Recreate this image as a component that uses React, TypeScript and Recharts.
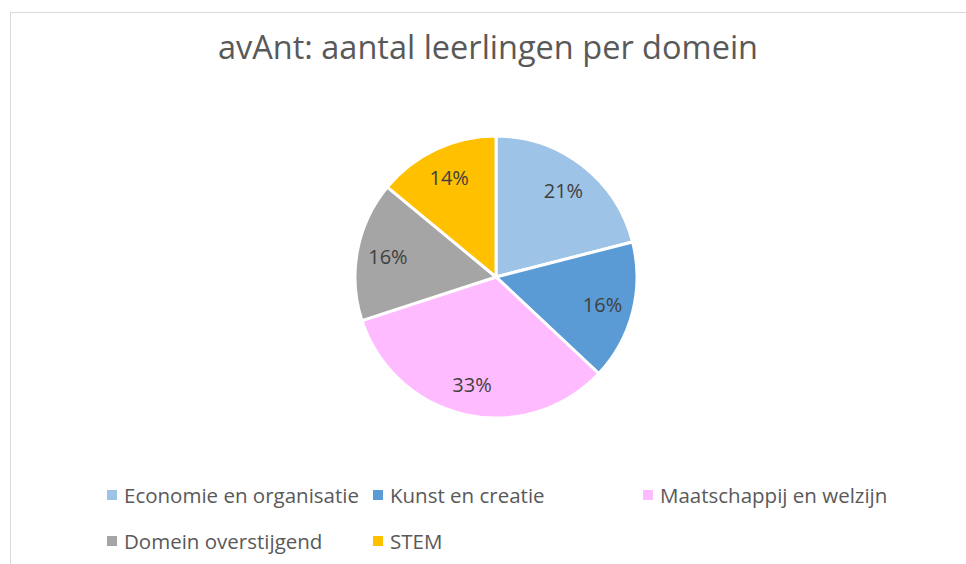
import { PieChart, Pie, Cell, Legend } from "recharts";

const categories = [
  "Economie en organisatie",
  "Kunst en creatie",
  "Maatschappij en welzijn",
  "Domein overstijgend",
  "STEM",
];
const shares = [21, 16, 33, 16, 14];
const colors = ["#9DC3E6", "#5B9BD5", "#FFBBFF", "#A5A5A5", "#FFC000"];

const data = categories.map((name, i) => ({ name, value: shares[i] }));

const FONT = "'Open Sans', 'Noto Sans', sans-serif";
const RAD = Math.PI / 180;

function renderLabel(props: any) {
  const { cx, cy, midAngle, outerRadius, percent } = props;
  const r = outerRadius * 0.78;
  const x = cx + r * Math.cos(-midAngle * RAD);
  const y = cy + r * Math.sin(-midAngle * RAD);
  return (
    <text
      x={x}
      y={y}
      fill="#404040"
      fontSize={20}
      fontFamily={FONT}
      textAnchor="middle"
      dominantBaseline="central"
    >
      {`${Math.round(percent * 100)}%`}
    </text>
  );
}

function LegendBox() {
  // excel style: 3 columns, wraps to next row. built from our own arrays so order is kept
  const colX = [107, 373, 643];
  return (
    <div style={{ position: "relative", width: 966, height: 90 }}>
      {categories.map((name, i) => (
        <div
          key={`leg-${i}`}
          style={{
            position: "absolute",
            left: colX[i % 3],
            top: Math.floor(i / 3) * 46,
            display: "flex",
            alignItems: "center",
            gap: 7,
            fontFamily: FONT,
            fontSize: 20.5,
            color: "#595959",
            whiteSpace: "nowrap",
          }}
        >
          <span
            style={{
              width: 10,
              height: 10,
              background: colors[i],
              display: "inline-block",
            }}
          />
          {name}
        </div>
      ))}
    </div>
  );
}

export default function App() {
  return (
    <div
      style={{
        position: "absolute",
        left: 0,
        top: 0,
        width: 966,
        height: 564,
        background: "#fff",
        overflow: "hidden",
      }}
    >
      <div
        style={{
          position: "absolute",
          left: 10,
          top: 12,
          width: 1000,
          height: 600,
          border: "1px solid #D9D9D9",
        }}
      />
      <div
        style={{
          position: "absolute",
          left: 0,
          top: 24,
          width: 976,
          textAlign: "center",
          fontFamily: FONT,
          fontSize: 32.5,
          color: "#595959",
        }}
      >
        avAnt: aantal leerlingen per domein
      </div>
      <PieChart
        width={966}
        height={564}
        margin={{ top: 0, right: 0, bottom: 0, left: 0 }}
        style={{ position: "absolute", left: 0, top: 0 }}
      >
        <Pie
          data={data}
          dataKey="value"
          nameKey="name"
          cx={496}
          cy={277}
          outerRadius={141}
          startAngle={90}
          endAngle={-270}
          stroke="#fff"
          strokeWidth={3}
          label={renderLabel}
          labelLine={false}
          isAnimationActive={false}
        >
          {data.map((d, i) => (
            <Cell key={`c-${i}`} fill={colors[i]} />
          ))}
        </Pie>
        <Legend
          content={<LegendBox />}
          wrapperStyle={{ left: 0, top: 481, width: 966 }}
        />
      </PieChart>
    </div>
  );
}
